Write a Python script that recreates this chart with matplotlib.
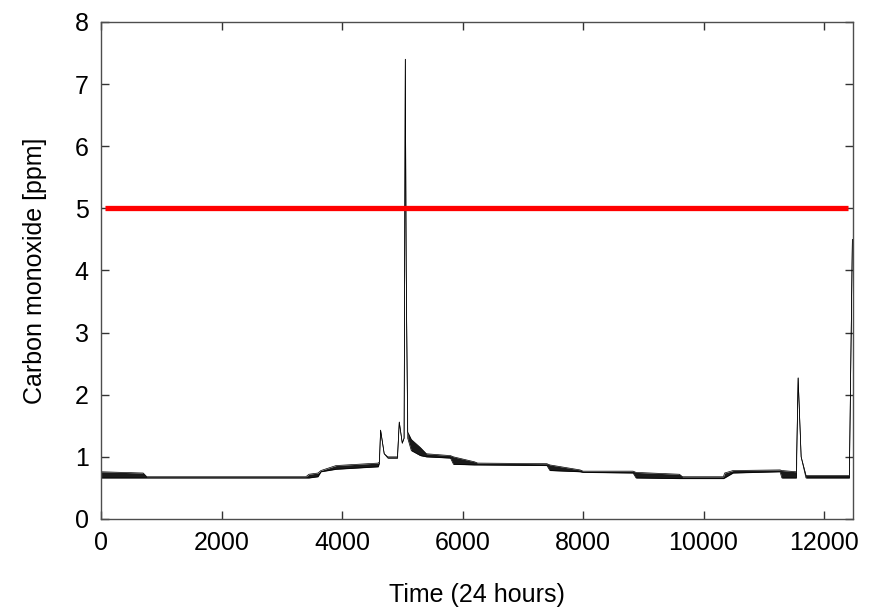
import matplotlib
matplotlib.use('Agg')
import matplotlib.pyplot as plt

plt.rcParams['font.family'] = ['Liberation Sans', 'DejaVu Sans']

# CO readings over the day: envelope of the noisy trace (lower / upper)
time_s = [0, 700, 760, 3400, 3450, 3600, 3650, 3900, 4600, 4620, 4640, 4700, 4760,
          4920, 4950, 5000, 5030, 5050, 5065, 5090, 5150, 5300, 5400, 5800, 5850, 6200,
          6250, 7400, 7450, 7950, 8000, 8830, 8880, 9600, 9650, 10330, 10350, 10490,
          11270, 11300, 11540, 11570, 11620, 11700, 12420, 12470]
co_low = [0.66, 0.66, 0.66, 0.66, 0.66, 0.68, 0.76, 0.80, 0.84, 0.90, 1.43, 1.05, 0.98,
          0.98, 1.56, 1.22, 1.30, 7.40, 4.00, 1.30, 1.10, 1.02, 1.00, 0.98, 0.88, 0.87,
          0.87, 0.86, 0.78, 0.76, 0.75, 0.74, 0.66, 0.65, 0.65, 0.65, 0.66, 0.74,
          0.76, 0.66, 0.66, 2.27, 1.00, 0.66, 0.66, 4.50]
co_high = [0.76, 0.74, 0.68, 0.68, 0.72, 0.74, 0.78, 0.86, 0.90, 0.92, 1.43, 1.05, 1.00,
           1.00, 1.56, 1.22, 1.30, 7.40, 4.00, 1.40, 1.28, 1.15, 1.05, 1.02, 1.00, 0.92,
           0.90, 0.89, 0.87, 0.79, 0.77, 0.77, 0.75, 0.72, 0.68, 0.68, 0.74, 0.78,
           0.79, 0.78, 0.76, 2.27, 1.00, 0.70, 0.70, 4.50]

limit_ppm = 5
limit_span = [60, 12400]

fig = plt.figure(figsize=(8.77, 6.07), dpi=100)
ax = fig.add_axes([0.1152, 0.145, 0.8574, 0.8188])

ax.fill_between(time_s, co_low, co_high, color='0.1', lw=0)
ax.plot(time_s, co_low, color='black', lw=0.5)
ax.plot(time_s, co_high, color='black', lw=0.5)
ax.plot(limit_span, [limit_ppm, limit_ppm], color='#ff0000', lw=3.8, solid_capstyle='butt')

ax.set_xlim(0, 12480)
ax.set_ylim(0, 8)
ax.set_xticks(range(0, 12001, 2000))
ax.set_yticks(range(0, 9))

for s in ax.spines.values():
    s.set_color('0.3')
    s.set_linewidth(1.0)
ax.tick_params(direction='in', length=6, width=1.0, color='0.2',
               top=True, right=True, labelsize=18, pad=9)

ax.set_xlabel('Time (24 hours)', fontsize=18, labelpad=20)
ax.set_ylabel('Carbon monoxide [ppm]', fontsize=18, labelpad=20)

fig.savefig('out.png', dpi=100)
